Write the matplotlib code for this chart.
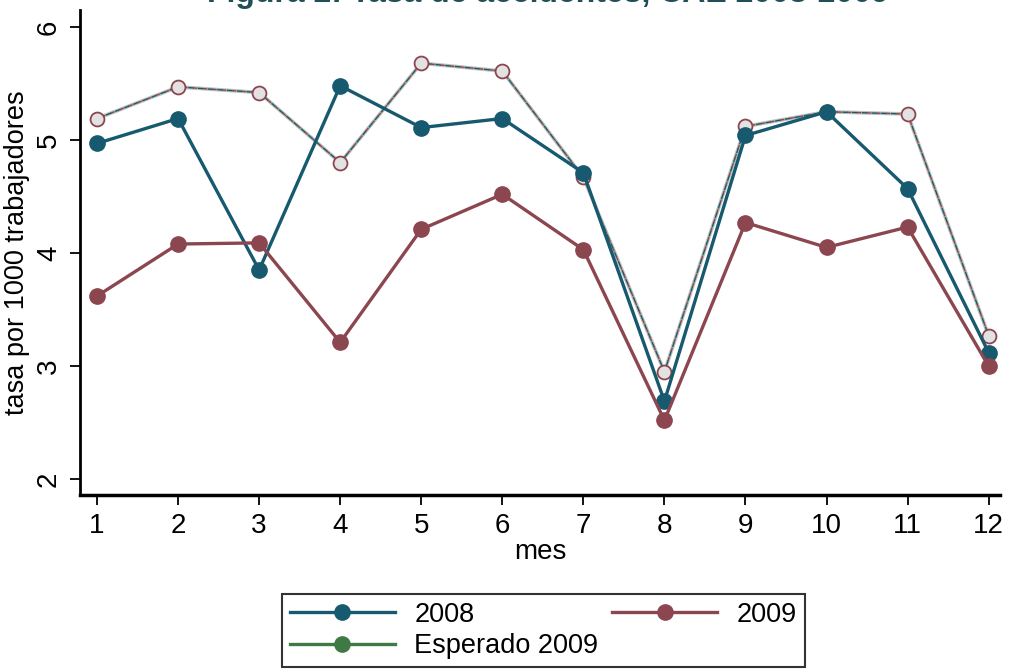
import matplotlib.pyplot as plt

# Datos (tasa por 1000 trabajadores)
meses = list(range(1, 13))
tasa_2008 = [4.97, 5.19, 3.85, 5.48, 5.11, 5.19, 4.71, 2.69, 5.04, 5.25, 4.57, 3.12]
tasa_2009 = [3.62, 4.08, 4.09, 3.21, 4.21, 4.52, 4.03, 2.52, 4.27, 4.05, 4.23, 3.00]
esperado_2009 = [5.19, 5.47, 5.42, 4.80, 5.68, 5.61, 4.67, 2.95, 5.12, 5.25, 5.23, 3.27]

azul = "#17596f"
rojo = "#8c4650"
verde = "#3f7a45"

plt.rcParams["font.family"] = ["Liberation Sans", "DejaVu Sans"]

fig = plt.figure(figsize=(10.09, 6.72), dpi=100)
ax = fig.add_axes([80 / 1009, 1 - 495 / 672, 920 / 1009, 485 / 672])

# Esperado 2009: linea fina gris-verde con trazos azul/rojo encima
ax.plot(meses, esperado_2009, color="#b8bfb8", lw=2.6, zorder=2)
ax.plot(meses, esperado_2009, color=azul, lw=1.0, ls=(0, (4, 3)), zorder=3)
ax.plot(meses, esperado_2009, color=rojo, lw=1.0, ls=(3.5, (3, 4)), zorder=3)
ax.plot(meses, esperado_2009, ls="none", marker="o", ms=10,
        mfc="#e2e2e2", mec=rojo, mew=1.3, zorder=4)

ax.plot(meses, tasa_2008, color=azul, lw=2.4, marker="o", ms=11, zorder=5)
ax.plot(meses, tasa_2009, color=rojo, lw=2.4, marker="o", ms=11, zorder=5)

ax.set_xlim(0.79, 12.14)
ax.set_ylim(1.86, 6.15)
ax.set_xticks(meses)
ax.set_yticks([2, 3, 4, 5, 6])
ax.tick_params(axis="x", labelsize=20, length=7, width=1.3, pad=6)
ax.tick_params(axis="y", labelsize=20, length=7, width=1.3, pad=6, labelrotation=90)
for lbl in ax.get_yticklabels():
    lbl.set_va("center")

ax.spines["top"].set_visible(False)
ax.spines["right"].set_visible(False)
ax.spines["left"].set_linewidth(2)
ax.spines["bottom"].set_linewidth(2.5)

ax.set_xlabel("mes", fontsize=20, labelpad=0)
ax.set_ylabel("tasa por 1000 trabajadores", fontsize=19.5, labelpad=4)

# Titulo cortado en el borde superior, como en la referencia
fig.text(0.543, 0.997, "Figura 2: Tasa de accidentes, CAE 2008-2009",
         ha="center", va="baseline", fontsize=23, weight="bold", color="#1f4f57")

# Leyenda
h2008 = plt.Line2D([], [], color=azul, lw=2.4, marker="o", ms=11)
h2009 = plt.Line2D([], [], color=rojo, lw=2.4, marker="o", ms=11)
hesp = plt.Line2D([], [], color=verde, lw=2.4, marker="o", ms=11)
leg = fig.legend([h2008, hesp, h2009], ["2008", "Esperado 2009", "2009"],
                 ncol=2, loc="upper left", bbox_to_anchor=(268 / 1009, 1 - 580 / 672),
                 fontsize=19.5, frameon=True, fancybox=False, edgecolor="black",
                 handlelength=3.9, numpoints=1, columnspacing=0.5,
                 labelspacing=0.2, borderpad=0.3, handletextpad=0.7)
leg.get_frame().set_linewidth(1.5)

fig.savefig("out.png", dpi=100)
